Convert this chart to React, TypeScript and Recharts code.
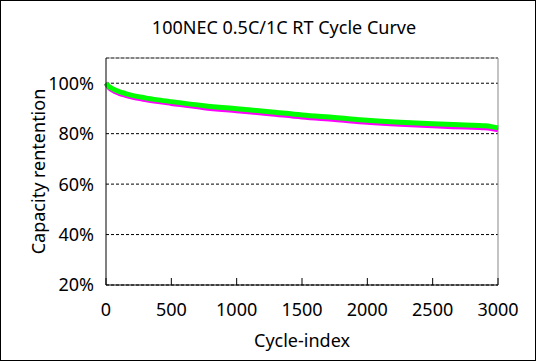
import { LineChart, Line, XAxis, YAxis, CartesianGrid, ReferenceLine, Label } from 'recharts'

const cycles = [0, 25, 50, 100, 150, 200, 300, 400, 500, 750, 1000, 1250, 1500, 1750, 2000, 2250, 2500, 2750, 2900, 2950, 3000]
const cellA = [100, 98.2, 97.2, 96.0, 95.2, 94.5, 93.5, 92.7, 92.0, 90.3, 89.1, 87.9, 86.6, 85.6, 84.5, 83.7, 83.1, 82.6, 82.3, 82.0, 81.5]
const cellB = [100, 98.6, 97.8, 96.7, 95.9, 95.2, 94.2, 93.4, 92.7, 91.1, 89.9, 88.7, 87.4, 86.4, 85.3, 84.5, 83.9, 83.4, 83.1, 82.8, 82.3]
const xTicks = [0, 500, 1000, 1500, 2000, 2500, 3000]
const yTicks = [20, 40, 60, 80, 100]

const FONT = '"Noto Sans", sans-serif'

const data = cycles.map((c, i) => ({ cycle: c, a: cellA[i], b: cellB[i] }))

export default function App() {
  return (
    <div
      style={{
        position: 'absolute',
        left: 0,
        top: 0,
        width: 536,
        height: 361,
        border: '1px solid #000',
        boxSizing: 'border-box',
        background: '#fff',
        fontFamily: FONT,
      }}
    >
      <div
        style={{
          position: 'absolute',
          left: 0,
          width: 566,
          top: 14,
          textAlign: 'center',
          fontSize: 18,
          color: '#000',
        }}
      >
        100NEC 0.5C/1C RT Cycle Curve
      </div>
      <LineChart
        width={534}
        height={359}
        data={data}
        margin={{ top: 57, right: 37, left: 0, bottom: 0 }}
        style={{ position: 'absolute', left: 0, top: 0 }}
      >
        <CartesianGrid vertical={false} stroke="#000" strokeDasharray="3 2" />
        <ReferenceLine y={110} stroke="#888" strokeWidth={1} />
        <ReferenceLine x={3000} stroke="#888" strokeWidth={1} />
        <XAxis
          dataKey="cycle"
          type="number"
          domain={[0, 3000]}
          ticks={xTicks}
          height={75}
          tickSize={-7}
          tickMargin={25}
          stroke="#000"
          tick={{ fill: '#000', fontSize: 18, fontFamily: FONT }}
        >
          <Label value="Cycle-index" position="insideBottom" offset={13} style={{ fill: '#000', fontSize: 18, fontFamily: FONT }} />
        </XAxis>
        <YAxis
          type="number"
          domain={[20, 110]}
          ticks={yTicks}
          width={105}
          tickLine={false}
          tickMargin={6}
          stroke="#000"
          tickFormatter={(v: number) => `${v}%`}
          tick={{ fill: '#000', fontSize: 18, fontFamily: FONT }}
        >
          <Label
            content={({ viewBox }: any) => {
              const cy = viewBox.y + viewBox.height / 2
              return (
                <text
                  x={37}
                  y={cy}
                  transform={`rotate(-90 37 ${cy})`}
                  textAnchor="middle"
                  dominantBaseline="central"
                  fill="#000"
                  fontSize={18}
                  fontFamily={FONT}
                >
                  Capacity rentention
                </text>
              )
            }}
          />
        </YAxis>
        <Line dataKey="a" type="monotone" stroke="#ff00ff" strokeWidth={5} dot={false} isAnimationActive={false} />
        <Line dataKey="b" type="monotone" stroke="#00ff00" strokeWidth={5} dot={false} isAnimationActive={false} />
      </LineChart>
    </div>
  )
}
